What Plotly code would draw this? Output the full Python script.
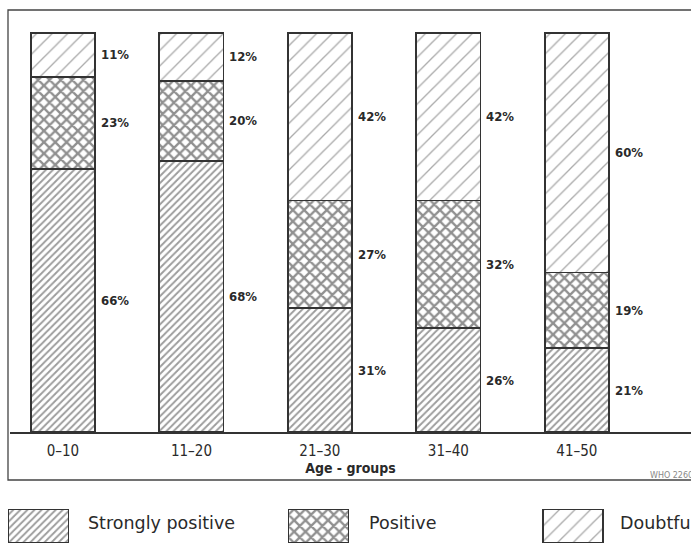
import plotly.graph_objects as go

age_groups = ["0–10", "11–20", "21–30", "31–40", "41–50"]
strongly_positive = [66, 68, 31, 26, 21]
positive = [23, 20, 27, 32, 19]
doubtful = [11, 12, 42, 42, 60]
legend_labels = ["Strongly positive", "Positive", "Doubtful"]

W, H = 691, 545
LINE = "#333333"
TXT = "#2a2a2a"
COND = "DejaVu Sans Condensed, Open Sans"

def px_x(p):
    return p / W

def px_y(p):
    return 1 - p / H

fig = go.Figure()

patterns = {
    "sp": dict(shape="/", size=5, solidity=0.38, fgcolor="#3a3a3a", bgcolor="white"),
    "p": dict(shape="x", size=8, solidity=0.5, fgcolor="#222222", bgcolor="white"),
    "d": dict(shape="/", size=11, solidity=0.12, fgcolor="#555555", bgcolor="white"),
}

series = [
    ("Strongly positive", strongly_positive, "sp"),
    ("Positive", positive, "p"),
    ("Doubtful", doubtful, "d"),
]

for name, vals, key in series:
    fig.add_trace(go.Bar(
        x=age_groups, y=vals, name=name, width=0.5,
        marker=dict(color="white", pattern=patterns[key],
                    line=dict(color=LINE, width=1.8)),
        showlegend=False, hoverinfo="skip",
    ))

# percentage labels
for i, g in enumerate(age_groups):
    base = 0
    for vals in (strongly_positive, positive, doubtful):
        v = vals[i]
        fig.add_annotation(x=g, y=base + v / 2, xref="x", yref="y",
                           text=f"<b>{v}%</b>", showarrow=False,
                           xanchor="left", xshift=36,
                           font=dict(family=COND, size=13, color=TXT))
        base += v

# legend boxes drawn as bars on a helper axis
leg_x = [38.5, 318.5, 573]
leg_text_x = [86, 367, 618]
for (name, vals, key), lx, tx, lab in zip(series, leg_x, leg_text_x, legend_labels):
    fig.add_trace(go.Bar(
        x=[lx], y=[1], xaxis="x2", yaxis="y2", width=60,
        marker=dict(color="white", pattern=patterns[key],
                    line=dict(color=LINE, width=1.5)),
        showlegend=False, hoverinfo="skip",
    ))
    fig.add_annotation(x=tx, y=0.5, xref="x2", yref="y2", text=lab,
                       showarrow=False, xanchor="left", yshift=3,
                       font=dict(family="DejaVu Sans", size=17.5, color=TXT))

# y range extends slightly above 100 so the bar top edges are not clipped
Y_TOP = 101
top_px = 432 - Y_TOP * 3.99

fig.update_layout(
    width=W, height=H,
    margin=dict(l=0, r=0, t=0, b=0),
    paper_bgcolor="white", plot_bgcolor="white",
    barmode="stack", bargap=0,
    xaxis=dict(domain=[px_x(10), 1], range=[-0.412, 4.888], type="category",
               showline=True, linecolor=LINE, linewidth=1.8,
               ticks="outside", ticklen=4, tickcolor="rgba(0,0,0,0)",
               tickfont=dict(family=COND, size=15, color=TXT),
               showgrid=False, zeroline=False,
               title=dict(text="<b>Age - groups</b>", standoff=2,
                          font=dict(family=COND, size=14, color=TXT))),
    yaxis=dict(domain=[px_y(432), px_y(top_px)], range=[0, Y_TOP],
               visible=False, showgrid=False, zeroline=False),
    xaxis2=dict(domain=[0, 1], range=[0, W], visible=False, anchor="y2"),
    yaxis2=dict(domain=[px_y(543), px_y(509)], range=[0, 1], visible=False, anchor="x2"),
    shapes=[dict(type="rect", xref="paper", yref="paper",
                 x0=px_x(8), x1=1.02, y0=px_y(480), y1=px_y(10),
                 line=dict(color="#444444", width=1.3), layer="below")],
    annotations=list(fig.layout.annotations) + [
        dict(x=px_x(648), y=px_y(475), xref="paper", yref="paper", text="WHO 2260",
             showarrow=False, xanchor="left", yanchor="middle",
             font=dict(family="DejaVu Sans", size=8, color="#888888"))
    ],
)

fig.write_html("out.html", config={"displayModeBar": False, "staticPlot": True},
               post_script="document.body.style.margin='0';document.body.style.padding='0';")
